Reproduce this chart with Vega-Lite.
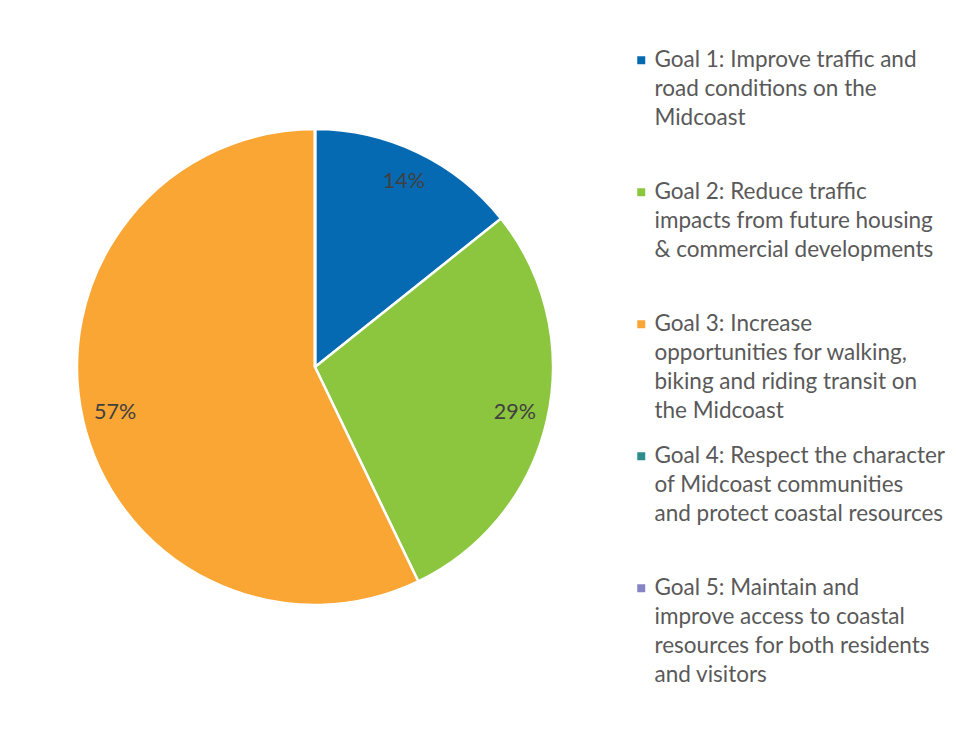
{
  "$schema": "https://vega.github.io/schema/vega-lite/v6.json",
  "width": 616,
  "height": 730,
  "padding": {"left": 7, "top": 2, "right": 0, "bottom": 0},
  "config": {
    "view": {"stroke": null},
    "style": {"guide-label": {"lineHeight": 29, "dy": -11}}
  },
  "data": {
    "values": [
      {"goal": "Goal 1: Improve traffic and|road conditions on the|Midcoast|", "order": 1, "value": 1, "label": "14%"},
      {"goal": "Goal 2: Reduce traffic|impacts from future housing|& commercial developments|", "order": 2, "value": 2, "label": "29%"},
      {"goal": "Goal 3: Increase|opportunities for walking,|biking and riding transit on|the Midcoast", "order": 3, "value": 4, "label": "57%"},
      {"goal": "Goal 4: Respect the character|of Midcoast communities|and protect coastal resources|", "order": 4, "value": 0, "label": "0%"},
      {"goal": "Goal 5: Maintain and|improve access to coastal|resources for both residents|and visitors", "order": 5, "value": 0, "label": "0%"}
    ]
  },
  "layer": [
    {
      "mark": {"type": "arc", "outerRadius": 238, "stroke": "white", "strokeWidth": 2.5},
      "encoding": {
        "theta": {"field": "value", "type": "quantitative", "stack": true},
        "order": {"field": "order", "type": "quantitative"},
        "color": {
          "field": "goal",
          "type": "nominal",
          "sort": null,
          "scale": {
            "domain": [
              "Goal 1: Improve traffic and|road conditions on the|Midcoast|",
              "Goal 2: Reduce traffic|impacts from future housing|& commercial developments|",
              "Goal 3: Increase|opportunities for walking,|biking and riding transit on|the Midcoast",
              "Goal 4: Respect the character|of Midcoast communities|and protect coastal resources|",
              "Goal 5: Maintain and|improve access to coastal|resources for both residents|and visitors"
            ],
            "range": ["#066ab3", "#8cc63f", "#f9a634", "#2e8c8f", "#8585c4"]
          },
          "legend": {
            "title": null,
            "orient": "none",
            "legendX": 623,
            "legendY": 47,
            "padding": 0,
            "symbolType": "square",
            "symbolSize": 64,
            "symbolStrokeWidth": 0,
            "symbolOpacity": 1,
            "labelFont": "Lato",
            "labelFontSize": 22.5,
            "labelColor": "#595959",
            "labelOffset": 2,
            "labelLimit": 0,
            "labelBaseline": "top",
            "rowPadding": 22,
            "labelExpr": "split(datum.label, '|')"
          }
        }
      }
    },
    {
      "transform": [{"filter": "datum.value > 0"}],
      "mark": {"type": "text", "radius": 205, "font": "Lato", "fontSize": 21.5, "fill": "#404040"},
      "encoding": {
        "theta": {"field": "value", "type": "quantitative", "stack": true},
        "order": {"field": "order", "type": "quantitative"},
        "text": {"field": "label", "type": "nominal"}
      }
    }
  ]
}
